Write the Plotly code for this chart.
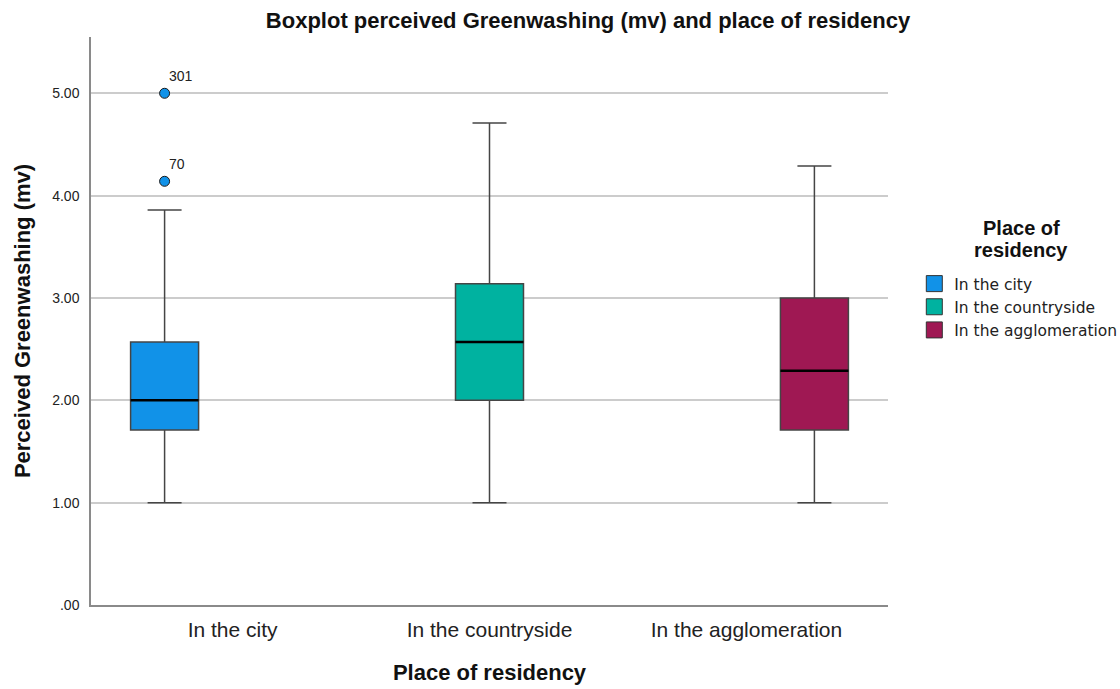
import plotly.graph_objects as go

# Summary statistics of perceived greenwashing (mean value) by place of residency
groups = ["In the city", "In the countryside", "In the agglomeration"]
colors = ["#1192E8", "#00B2A0", "#9F1853"]
lower_whisker = [1.00, 1.00, 1.00]
q1 = [1.71, 2.00, 1.71]
median = [2.00, 2.57, 2.29]
q3 = [2.57, 3.14, 3.00]
upper_whisker = [3.86, 4.71, 4.29]

# Outliers (case numbers) in the city group
outlier_group = ["In the city", "In the city"]
outlier_values = [5.00, 4.14]
outlier_ids = ["301", "70"]

y_ticks = [0, 1, 2, 3, 4, 5]
y_ticktext = [".00", "1.00", "2.00", "3.00", "4.00", "5.00"]

legend_title_lines = ["Place of", "residency"]

# Clustered layout: each category has one slot per legend group
slot = 0.2646
box_width = 0.2646
positions = [i + (i - 1) * slot for i in range(len(groups))]
pos_of = dict(zip(groups, positions))

fig = go.Figure()

for i, g in enumerate(groups):
    fig.add_trace(go.Box(
        x=[positions[i]],
        q1=[q1[i]], median=[median[i]], q3=[q3[i]],
        lowerfence=[lower_whisker[i]], upperfence=[upper_whisker[i]],
        width=box_width, whiskerwidth=0.5,
        fillcolor=colors[i],
        line=dict(color="#454545", width=1.5),
        boxpoints=False, showlegend=False, hoverinfo="skip",
    ))
    # heavier median line
    fig.add_trace(go.Scatter(
        x=[positions[i] - box_width / 2, positions[i] + box_width / 2],
        y=[median[i], median[i]],
        mode="lines", line=dict(color="#000000", width=2.5),
        showlegend=False, hoverinfo="skip",
    ))

# outliers with case labels
fig.add_trace(go.Scatter(
    x=[pos_of[g] for g in outlier_group], y=outlier_values,
    mode="markers", showlegend=False, hoverinfo="skip",
    marker=dict(size=10, color=colors[0], line=dict(color="#1a1a1a", width=1)),
))
for g, v, t in zip(outlier_group, outlier_values, outlier_ids):
    fig.add_annotation(x=pos_of[g], y=v, text=t, showarrow=False,
                       xanchor="left", yanchor="bottom", xshift=2, yshift=7,
                       font=dict(size=14, color="#222222"))

# legend entries as filled squares
for g, c in zip(groups, colors):
    fig.add_trace(go.Scatter(
        x=[None], y=[None], mode="markers", name=g,
        marker=dict(symbol="square", size=16, color=c,
                    line=dict(color="#333333", width=1)),
    ))

# two-line legend heading with tight line spacing
for line_text, yy in zip(legend_title_lines, [0.6637, 0.625]):
    fig.add_annotation(xref="paper", yref="paper", x=1.1669, y=yy,
                       text=f"<b>{line_text}</b>", showarrow=False,
                       xanchor="center", yanchor="middle",
                       font=dict(size=20, color="#111111"))

fig.update_layout(
    width=1120, height=689,
    margin=dict(l=91, r=232, t=37, b=84, autoexpand=False),
    paper_bgcolor="white", plot_bgcolor="white",
    font=dict(family="Liberation Sans, Arial, sans-serif", color="#222222"),
    title=dict(text="<b>Boxplot perceived Greenwashing (mv) and place of residency</b>",
               x=0.525, xanchor="center", y=0.971, yanchor="middle",
               font=dict(size=22, color="#111111")),
    showlegend=True,
    legend=dict(
        x=1.033, xanchor="left", y=0.595, yanchor="top",
        font=dict(family="DejaVu Sans, sans-serif", size=15.5, color="#222222"),
        tracegroupgap=0,
    ),
    xaxis=dict(
        range=[-0.551, 2.551], tickvals=list(range(len(groups))), ticktext=groups,
        showgrid=False, zeroline=False, showline=True,
        linecolor="#8a8a8a", linewidth=1.5, automargin=False,
        tickfont=dict(size=21, color="#222222"),
        ticklabelstandoff=5,
        title=dict(text="<b>Place of residency</b>", font=dict(size=22, color="#111111"),
                   standoff=25),
        ticks="",
    ),
    yaxis=dict(
        range=[0, 5.55], tickvals=y_ticks, ticktext=y_ticktext,
        showgrid=True, gridcolor="#cccccc", gridwidth=1.5,
        zeroline=False, showline=True, linecolor="#8a8a8a", linewidth=1.5,
        automargin=False,
        tickfont=dict(size=14, color="#222222"), ticks="",
        ticklabelstandoff=7,
        title=dict(text="<b>Perceived Greenwashing (mv)</b>",
                   font=dict(size=22, color="#111111"), standoff=16),
    ),
)

fig.write_html("out.html")
